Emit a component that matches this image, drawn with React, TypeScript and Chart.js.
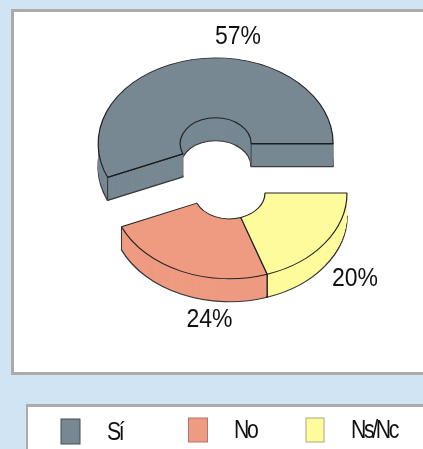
import React, { useEffect, useRef } from "react";
import { Chart, registerables } from "chart.js";

Chart.register(...registerables);

// Drawn clockwise from 3 o'clock, so the order is the reverse of the legend.
const categories = ["Ns/Nc", "No", "Sí"];
const values = [20, 24, 57];
const colors = ["#FDFB9B", "#EE9B82", "#778893"];
const legendOrder = ["Sí", "No", "Ns/Nc"];
const legendEdges = ["#A8A87A", "#B0776A", "#444C52"];
const explodeBySlice = [0, 0, 69];

const W = 423;
const H = 449;
const SQUASH = 0.73;
const DEPTH = 23;
const INK = "#1c1c1c";

const labelAt: Record<string, [number, number]> = {
  "Sí": [238, 44],
  "No": [209.5, 327],
  "Ns/Nc": [355, 286],
};
const legendAt: Record<string, { box: [number, number, number, number]; text: [number, number] }> = {
  "Sí": { box: [61, 419, 19, 25], text: [107, 440] },
  "No": { box: [188.5, 418, 19, 24], text: [234, 438] },
  "Ns/Nc": { box: [306, 418, 18, 24], text: [351, 438] },
};

function scaledText(ctx: CanvasRenderingContext2D, t: string, x: number, y: number, sx: number, spacing: string, align: CanvasTextAlign) {
  ctx.save();
  ctx.font = '25px "Liberation Sans", Arial, sans-serif';
  ctx.fillStyle = "#111";
  ctx.textAlign = align;
  ctx.textBaseline = "alphabetic";
  (ctx as any).letterSpacing = spacing;
  ctx.translate(x, y);
  ctx.scale(sx, 1);
  ctx.fillText(t, 0, 0);
  ctx.restore();
}

const piePlugin = {
  id: "explodedPie3d",
  beforeDraw(chart: any) {
    const ctx: CanvasRenderingContext2D = chart.ctx;
    ctx.save();
    ctx.fillStyle = "#D0E4F4";
    ctx.fillRect(0, 0, W, H);
    ctx.fillStyle = "#ABABAB";
    ctx.fillRect(11, 9, W - 11, 366);
    ctx.fillRect(26, 404, W - 26, H - 404);
    ctx.fillStyle = "#FFFFFF";
    ctx.fillRect(14, 12, W - 14, 360);
    ctx.fillRect(28, 407, W - 28, H - 407);
    ctx.restore();
  },
  beforeDatasetsDraw(chart: any) {
    const ctx: CanvasRenderingContext2D = chart.ctx;
    const arcs: any[] = chart.getDatasetMeta(0).data;

    const place = (i: number, d: number) => {
      const a = arcs[i];
      const mid = (a.startAngle + a.endAngle) / 2;
      ctx.translate(0, d + a.y);
      ctx.scale(1, SQUASH);
      ctx.translate(0, -a.y);
      ctx.translate(Math.cos(mid) * explodeBySlice[i], Math.sin(mid) * explodeBySlice[i]);
    };
    const paint = (i: number, d: number, border: number, color = "#333") => {
      const a = arcs[i];
      const saved = a.options;
      a.options = { ...saved, borderWidth: border, borderColor: color };
      ctx.save();
      place(i, d);
      a.draw(ctx);
      ctx.restore();
      a.options = saved;
    };
    const corner = (i: number, angle: number, r: number, color: string, width: number) => {
      const a = arcs[i];
      const mid = (a.startAngle + a.endAngle) / 2;
      const x = a.x + Math.cos(angle) * r + Math.cos(mid) * explodeBySlice[i];
      const y = a.y + (Math.sin(angle) * r + Math.sin(mid) * explodeBySlice[i]) * SQUASH;
      ctx.save();
      ctx.strokeStyle = color;
      ctx.lineWidth = width;
      ctx.beginPath();
      ctx.moveTo(x, y);
      ctx.lineTo(x, y + DEPTH);
      ctx.stroke();
      ctx.restore();
    };
    const cut = (i: number, angle: number) => {
      const a = arcs[i];
      const mid = (a.startAngle + a.endAngle) / 2;
      const ox = a.x + Math.cos(mid) * explodeBySlice[i];
      const oy = a.y + Math.sin(mid) * explodeBySlice[i] * SQUASH;
      ctx.save();
      ctx.strokeStyle = INK;
      ctx.lineWidth = 1.5;
      ctx.beginPath();
      ctx.moveTo(ox + Math.cos(angle) * a.innerRadius, oy + Math.sin(angle) * a.innerRadius * SQUASH);
      ctx.lineTo(ox + Math.cos(angle) * a.outerRadius, oy + Math.sin(angle) * a.outerRadius * SQUASH);
      ctx.stroke();
      ctx.restore();
    };

    // Side walls, back to front, then the top faces over them.
    [2, 0, 1].forEach((i) => {
      paint(i, DEPTH, 1.6, "#3a3a3a");
      for (let d = DEPTH - 1.5; d > 0; d -= 0.5) paint(i, d, 0);
    });
    const si = arcs[2];
    const no = arcs[1];
    corner(2, si.startAngle, si.outerRadius, "#333", 1);
    corner(2, si.startAngle, si.innerRadius, "#777", 1);
    corner(2, si.endAngle, si.outerRadius, "#777", 1);
    corner(2, si.endAngle, si.innerRadius, "#444", 1);
    corner(1, no.endAngle, no.outerRadius, "#333", 1);
    [2, 1, 0].forEach((i) => paint(i, 0, 1.2, "#222"));
    corner(1, no.startAngle, no.outerRadius, INK, 1.4);
    cut(2, si.startAngle);
    cut(2, si.endAngle);
    return false;
  },
  afterDraw(chart: any) {
    const ctx: CanvasRenderingContext2D = chart.ctx;
    categories.forEach((c, i) => {
      const [x, y] = labelAt[c];
      scaledText(ctx, `${values[i]}%`, x, y, 0.92, "0px", "center");
    });
    legendOrder.forEach((c) => {
      const i = categories.indexOf(c);
      const { box, text } = legendAt[c];
      ctx.save();
      ctx.fillStyle = colors[i];
      ctx.strokeStyle = legendEdges[i];
      ctx.lineWidth = 1;
      ctx.fillRect(box[0], box[1], box[2], box[3]);
      ctx.strokeRect(box[0], box[1], box[2], box[3]);
      ctx.restore();
      scaledText(ctx, c, text[0], text[1], 0.85, "-2.8px", "left");
    });
  },
};

export default function App() {
  const ref = useRef<HTMLCanvasElement | null>(null);
  useEffect(() => {
    const chart = new Chart(ref.current as HTMLCanvasElement, {
      type: "doughnut",
      data: {
        labels: categories,
        datasets: [{ data: values, backgroundColor: colors, borderWidth: 0 }],
      },
      options: {
        responsive: false,
        animation: false,
        rotation: 90,
        radius: 117.5,
        cutout: "30.2%",
        layout: { padding: { left: 36, right: 0, top: 0, bottom: 63 } },
        events: [],
        plugins: { legend: { display: false }, tooltip: { enabled: false } },
      } as any,
      plugins: [piePlugin as any],
    });
    return () => chart.destroy();
  }, []);
  return (
    <div style={{ position: "absolute", left: 0, top: 0, width: W, height: H }}>
      <canvas ref={ref} width={W} height={H} style={{ display: "block" }} />
    </div>
  );
}
